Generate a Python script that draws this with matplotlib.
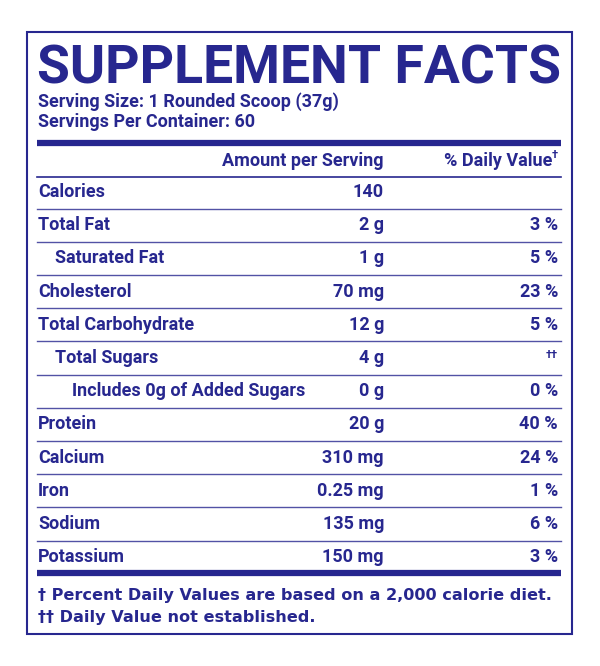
import matplotlib
matplotlib.use("Agg")
import matplotlib.pyplot as plt

nutrients = ["Calories", "Total Fat", "Saturated Fat", "Cholesterol", "Total Carbohydrate",
             "Total Sugars", "Includes 0g of Added Sugars", "Protein", "Calcium", "Iron",
             "Sodium", "Potassium"]
indent = [0, 0, 1, 0, 0, 1, 2, 0, 0, 0, 0, 0]
amounts = ["140", "2 g", "1 g", "70 mg", "12 g", "4 g", "0 g", "20 g", "310 mg",
           "0.25 mg", "135 mg", "150 mg"]
daily = ["", "3 %", "5 %", "23 %", "5 %", "††", "0 %", "40 %", "24 %", "1 %", "6 %", "3 %"]

C = "#27278f"
FAM = ["Liberation Sans Narrow", "Roboto", "DejaVu Sans"]
FS = 13

fig = plt.figure(figsize=(6, 6.66), dpi=100)
ax = fig.add_axes([0, 0, 1, 1])
ax.set_xlim(0, 600); ax.set_ylim(666, 0); ax.axis("off")

ax.add_patch(plt.Rectangle((27, 32), 545, 602, fill=False, ec=C, lw=1.5))
title = ax.text(37, 84, "SUPPLEMENT FACTS", fontsize=40, fontweight="bold", color=C,
                family=FAM, va="baseline")
r = fig.canvas.get_renderer()
w = title.get_window_extent(r).width
title.set_fontsize(40 * 523 / w)

ax.text(38, 107, "Serving Size: 1 Rounded Scoop (37g)", fontsize=FS, fontweight="bold",
        color=C, family=FAM, va="baseline")
ax.text(38, 127, "Servings Per Container: 60", fontsize=FS, fontweight="bold",
        color=C, family=FAM, va="baseline")
ax.plot([37, 561], [143, 143], color=C, lw=4.5, solid_capstyle="butt")
ax.text(384, 166, "Amount per Serving", fontsize=FS, fontweight="bold", color=C,
        family=FAM, ha="right", va="baseline")
ax.text(552, 166, "% Daily Value", fontsize=FS, fontweight="bold", color=C,
        family=FAM, ha="right", va="baseline")
ax.text(552, 158, "†", fontsize=8, fontweight="bold", color=C, family=FAM, ha="left", va="baseline")
ax.plot([37, 561], [177, 177], color=C, lw=1.2)

y0, dy = 197, 33.2
for i, (n, a, d) in enumerate(zip(nutrients, amounts, daily)):
    y = y0 + i * dy
    ax.text(38 + 17 * indent[i], y, n, fontsize=FS, fontweight="bold", color=C,
            family=FAM, va="baseline")
    ax.text(384, y, a, fontsize=FS, fontweight="bold", color=C, family=FAM,
            ha="right", va="baseline")
    if d:
        fs = 8 if d == "††" else FS
        ax.text(558, y - (5 if d == "††" else 0), d, fontsize=fs, fontweight="bold",
                color=C, family=FAM, ha="right", va="baseline")
    if i < len(nutrients) - 1:
        ax.plot([37, 561], [y + 11.5, y + 11.5], color=C, lw=1.0, alpha=0.8)
ax.plot([37, 561], [573, 573], color=C, lw=4.5, solid_capstyle="butt")
ax.text(38, 600, "† Percent Daily Values are based on a 2,000 calorie diet.", fontsize=11.6,
        fontweight="bold", color=C, family=["DejaVu Sans"], va="baseline")
ax.text(38, 622, "†† Daily Value not established.", fontsize=11.6,
        fontweight="bold", color=C, family=["DejaVu Sans"], va="baseline")
fig.savefig("out.png", dpi=100)
